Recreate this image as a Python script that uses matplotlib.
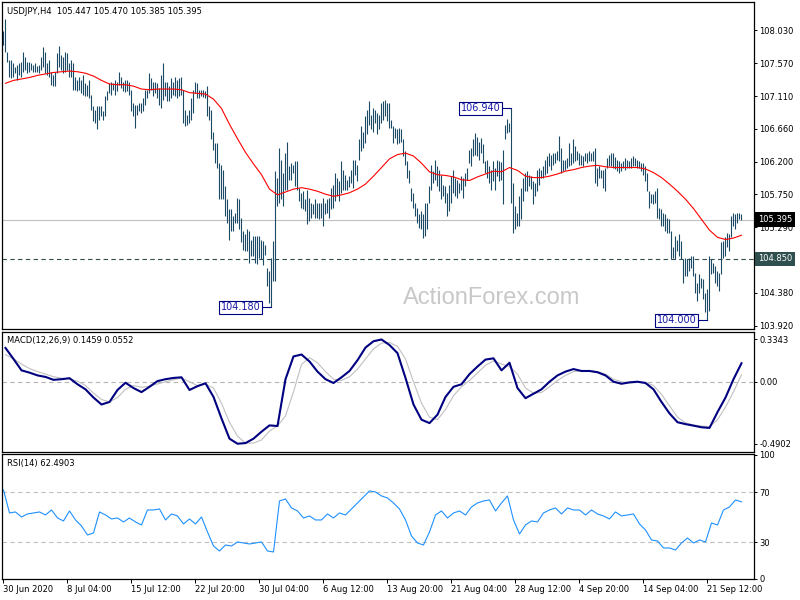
import matplotlib
matplotlib.use("Agg")
import matplotlib.pyplot as plt
import numpy as np

# USDJPY H4 bars (high / low), 30 Jun 2020 20:00 .. 24 Sep 2020
highs = [
    108.01, 108.18, 107.73, 107.61, 107.61, 107.57, 107.52, 107.55, 107.57, 107.59,
    107.73, 107.66, 107.59, 107.59, 107.57, 107.55, 107.57, 107.53, 107.55, 107.66,
    107.80, 107.73, 107.57, 107.61, 107.45, 107.41, 107.45, 107.71, 107.81, 107.68,
    107.66, 107.73, 107.71, 107.57, 107.61, 107.57, 107.38, 107.34, 107.38, 107.34,
    107.41, 107.30, 107.27, 107.34, 107.13, 106.97, 106.92, 106.97, 106.97, 106.97,
    106.90, 107.11, 107.18, 107.29, 107.31, 107.29, 107.34, 107.31, 107.45, 107.38,
    107.31, 107.33, 107.34, 107.31, 107.20, 107.01, 106.99, 106.99, 107.01, 107.01,
    107.08, 107.20, 107.20, 107.43, 107.36, 107.31, 107.31, 107.29, 107.22, 107.41,
    107.57, 107.31, 107.31, 107.25, 107.36, 107.31, 107.38, 107.34, 107.36, 107.38,
    107.20, 106.92, 106.85, 106.92, 107.08, 107.20, 107.31, 107.29, 107.20, 107.20,
    107.19, 107.18, 107.25, 106.97, 106.92, 106.62, 106.46, 106.46, 106.18, 106.16,
    106.09, 105.86, 105.68, 105.54, 105.54, 105.44, 105.49, 105.70, 105.68, 105.42,
    105.24, 105.19, 105.26, 105.24, 105.12, 105.17, 105.17, 105.17, 105.17,
    105.12, 105.10, 105.05, 104.73, 104.68, 104.87, 105.10,
    106.07, 105.98, 106.39, 106.23, 106.05, 106.32, 106.48, 106.14, 106.18, 106.16,
    106.21, 106.21, 105.84, 105.77, 105.79, 105.68, 105.81, 105.70, 105.63, 105.61,
    105.68, 105.63, 105.63, 105.63, 105.70, 105.63, 105.68, 105.70, 105.84, 105.88,
    106.05, 105.98, 105.93, 106.21, 106.09, 106.02, 105.95, 106.00, 106.09, 106.23,
    106.23, 106.16, 106.51, 106.69, 106.62, 106.83, 106.92, 107.04, 106.85, 106.95,
    106.92, 106.88, 106.85, 107.01, 107.04, 107.06, 107.01, 107.01, 106.78, 106.69,
    106.67, 106.65, 106.67, 106.65, 106.51, 106.35, 106.21, 106.09, 105.84, 105.77,
    105.63, 105.56, 105.47, 105.51, 105.47, 105.63, 105.63, 105.86, 106.16, 106.07,
    106.23, 106.14, 106.09, 106.02, 105.88, 105.86, 105.77, 105.88, 106.00, 106.09,
    105.98, 105.95, 105.91, 106.00, 105.98, 106.05, 106.11, 106.37, 106.39, 106.51,
    106.60, 106.55, 106.48, 106.53, 106.44, 106.21, 106.23, 106.14, 106.09, 106.21,
    106.11, 106.23,
    106.21, 106.20, 106.37, 106.71, 106.80, 106.74, 106.94, 105.91, 105.58, 105.49,
    105.72, 105.84, 105.98, 106.05, 106.07, 106.02, 106.00, 105.93, 105.91, 106.09,
    106.11, 106.09, 106.14, 106.23, 106.28, 106.32, 106.30, 106.32, 106.32, 106.35,
    106.56, 106.39, 106.23, 106.23, 106.25, 106.46, 106.32, 106.51, 106.42, 106.35,
    106.32, 106.30, 106.28, 106.32, 106.32, 106.35, 106.32, 106.35, 106.39, 106.12,
    106.14, 106.09, 106.09, 106.12, 106.25, 106.30, 106.32, 106.32, 106.27, 106.23,
    106.21, 106.18, 106.21, 106.25, 106.23, 106.21, 106.25, 106.28, 106.25, 106.23,
    106.21, 106.18, 106.18, 106.14, 106.05, 105.79, 105.75, 105.75, 105.79, 105.84,
    105.56, 105.54, 105.49, 105.47, 105.42, 105.40, 105.24, 105.01, 105.17, 105.12,
    105.19, 105.10, 104.85, 104.87, 104.85, 104.87, 104.89, 104.89, 104.66, 104.52,
    104.64, 104.59, 104.57, 104.38, 104.43, 104.89, 104.85, 104.80, 104.75, 104.68,
    104.66, 105.08, 105.10, 105.15, 105.21, 105.19, 105.45, 105.49, 105.47, 105.49,
    105.49, 105.47,
]
lows = [
    107.82, 107.72, 107.59, 107.38, 107.36, 107.38, 107.43, 107.34, 107.41, 107.38,
    107.45, 107.48, 107.43, 107.45, 107.48, 107.45, 107.45, 107.44, 107.43, 107.48,
    107.52, 107.43, 107.41, 107.38, 107.27, 107.25, 107.25, 107.43, 107.52, 107.48,
    107.43, 107.45, 107.48, 107.38, 107.38, 107.20, 107.20, 107.18, 107.20, 107.15,
    107.13, 107.12, 107.11, 107.08, 106.92, 106.76, 106.74, 106.65, 106.78, 106.83,
    106.78, 106.83, 107.06, 107.15, 107.13, 107.20, 107.13, 107.18, 107.27, 107.22,
    107.18, 107.17, 107.18, 107.13, 106.90, 106.83, 106.67, 106.85, 106.90, 106.88,
    106.90, 106.99, 107.08, 107.15, 107.20, 107.11, 107.15, 107.08, 106.99, 106.94,
    107.06, 107.11, 107.04, 107.04, 107.08, 107.13, 107.11, 107.08, 107.12, 107.13,
    106.74, 106.69, 106.71, 106.74, 106.78, 106.88, 107.15, 107.08, 107.08, 107.11,
    107.10, 107.08, 106.83, 106.78, 106.51, 106.37, 106.18, 106.11, 105.68, 105.68,
    105.68, 105.44, 105.35, 105.12, 105.24, 105.24, 105.35, 105.35, 105.26, 105.08,
    104.98, 104.96, 104.96, 104.80, 104.89, 104.89, 104.80, 104.78, 104.87,
    104.85, 104.77, 104.90, 104.47, 104.24, 104.18, 104.54,
    104.55, 105.58, 105.63, 105.68, 105.58, 105.81, 105.81, 105.95, 105.95, 106.05,
    105.86, 105.81, 105.65, 105.56, 105.54, 105.51, 105.33, 105.38, 105.42, 105.47,
    105.42, 105.42, 105.40, 105.42, 105.31, 105.47, 105.49, 105.42, 105.54, 105.56,
    105.65, 105.72, 105.65, 105.77, 105.81, 105.81, 105.81, 105.85, 105.91, 105.84,
    106.02, 105.93, 106.23, 106.35, 106.39, 106.46, 106.58, 106.71, 106.65, 106.62,
    106.74, 106.58, 106.65, 106.74, 106.78, 106.83, 106.76, 106.67, 106.67, 106.46,
    106.53, 106.44, 106.46, 106.48, 106.28, 106.16, 105.98, 105.91, 105.65, 105.56,
    105.45, 105.35, 105.28, 105.26, 105.14, 105.17, 105.26, 105.63, 105.81, 105.91,
    105.95, 105.86, 105.79, 105.68, 105.72, 105.63, 105.45, 105.51, 105.63, 105.77,
    105.72, 105.70, 105.77, 105.81, 105.70, 105.86, 105.95, 106.18, 106.14, 106.28,
    106.30, 106.28, 106.23, 106.32, 106.18, 106.05, 105.98, 105.91, 105.81, 105.93,
    105.81, 106.00,
    105.93, 105.95, 105.61, 106.51, 106.60, 106.62, 105.63, 105.21, 105.26, 105.31,
    105.31, 105.40, 105.65, 105.79, 105.79, 105.86, 105.82, 105.61, 105.72, 105.79,
    105.88, 105.98, 105.98, 106.02, 106.05, 106.14, 106.09, 106.16, 106.18, 106.23,
    106.21, 106.05, 106.07, 106.09, 106.12, 106.14, 106.16, 106.18, 106.21, 106.23,
    106.16, 106.16, 106.14, 106.21, 106.18, 106.21, 106.21, 106.21, 105.91, 105.86,
    105.98, 105.98, 105.84, 105.79, 106.12, 106.14, 106.14, 106.12, 106.10, 106.07,
    106.05, 106.07, 106.12, 106.09, 106.11, 106.12, 106.12, 106.14, 106.14, 106.12,
    106.12, 106.07, 106.02, 105.93, 105.79, 105.56, 105.63, 105.61, 105.63, 105.42,
    105.40, 105.31, 105.31, 105.24, 105.21, 105.21, 104.85, 104.87, 104.85, 104.96,
    104.89, 104.85, 104.52, 104.61, 104.61, 104.68, 104.73, 104.61, 104.38, 104.27,
    104.38, 104.45, 104.29, 104.11, 104.00, 104.13, 104.64, 104.66, 104.52, 104.48,
    104.41, 104.64, 104.87, 104.89, 105.01, 104.96, 105.15, 105.31, 105.26, 105.35,
    105.40, 105.385,
]

# moving average (red), one reading every 4 bars
ma_vals = [
    107.29, 107.33, 107.35, 107.37, 107.40, 107.42, 107.44, 107.45, 107.46, 107.45,
    107.43, 107.39, 107.33, 107.28, 107.27, 107.27, 107.25, 107.21, 107.20, 107.21,
    107.21, 107.21, 107.20, 107.16, 107.15, 107.14, 107.07, 106.94, 106.72, 106.52,
    106.33, 106.17, 106.02, 105.82, 105.74, 105.78, 105.82, 105.84, 105.82, 105.79,
    105.75, 105.72, 105.74, 105.77, 105.82, 105.89, 106.00, 106.12, 106.24, 106.30,
    106.32, 106.28, 106.18, 106.06, 106.02, 106.01, 105.99, 105.95, 105.94, 105.99,
    106.03, 106.07, 106.06, 106.12, 106.08, 106.00, 105.98, 105.98, 106.00, 106.03,
    106.07, 106.09, 106.12, 106.14, 106.15, 106.13, 106.12, 106.12, 106.12, 106.12,
    106.10, 106.05, 105.98, 105.89, 105.79, 105.68, 105.55, 105.40, 105.25, 105.15,
    105.12, 105.14, 105.18,
]

# MACD(12,26,9) main and signal, one reading every 4 bars
macd_main = [
    0.267, 0.18, 0.09, 0.072, 0.050, 0.038, 0.015, 0.020, 0.028, -0.020,
    -0.060, -0.125, -0.180, -0.160, -0.065, -0.008, -0.050, -0.082, -0.040, 0.005,
    0.020, 0.030, 0.035, -0.065, -0.035, -0.012, -0.120, -0.290, -0.450, -0.490,
    -0.485, -0.450, -0.395, -0.345, -0.350, 0.020, 0.200, 0.215, 0.160, 0.080,
    0.020, -0.010, 0.035, 0.085, 0.170, 0.270, 0.320, 0.334, 0.290, 0.226,
    0.030, -0.180, -0.300, -0.327, -0.260, -0.120, -0.040, -0.020, 0.060, 0.120,
    0.175, 0.185, 0.090, 0.150, -0.050, -0.130, -0.095, -0.060, 0.000, 0.050,
    0.080, 0.100, 0.085, 0.085, 0.075, 0.050, 0.000, -0.016, -0.005, 0.000,
    -0.010, -0.060, -0.160, -0.250, -0.320, -0.335, -0.347, -0.360, -0.365, -0.240,
    -0.125, 0.020, 0.146,
]
macd_signal = [
    0.215, 0.18, 0.14, 0.104, 0.08, 0.060, 0.040, 0.028, 0.021, 0.005,
    -0.030, -0.090, -0.140, -0.160, -0.125, -0.060, -0.030, -0.044, -0.035, -0.018,
    0.000, 0.015, 0.030, 0.000, -0.031, -0.020, -0.050, -0.170, -0.320, -0.430,
    -0.485, -0.485, -0.460, -0.390, -0.350, -0.270, -0.080, 0.137, 0.190, 0.150,
    0.080, 0.020, 0.010, 0.040, 0.100, 0.180, 0.260, 0.305, 0.310, 0.280,
    0.180, 0.000, -0.170, -0.280, -0.300, -0.220, -0.110, -0.040, 0.010, 0.070,
    0.130, 0.165, 0.140, 0.120, 0.060, -0.050, -0.090, -0.085, -0.040, 0.010,
    0.050, 0.080, 0.085, 0.085, 0.080, 0.060, 0.020, 0.000, -0.010, -0.005,
    -0.005, -0.030, -0.100, -0.190, -0.280, -0.325, -0.342, -0.350, -0.355, -0.300,
    -0.200, -0.080, 0.055,
]

# RSI(14), one reading every 3 bars
rsi_vals = [
    72, 53.6, 54.4, 50.4, 52.8, 53.6, 54.4, 52, 56, 49.6,
    47.2, 55.2, 48, 43.2, 36, 37.6, 54.4, 52, 48.8, 49.6,
    46.4, 49.6, 46.4, 44, 56, 56, 56.8, 48, 52.8, 51.2,
    44.8, 48.8, 44.8, 50.4, 38.4, 27.2, 23.2, 28, 27.2, 30.4,
    29.6, 28.8, 29.6, 30.4, 23.2, 22.4, 63.2, 64.8, 57.6, 55.2,
    49.6, 51.2, 48, 48, 52.8, 49.6, 53.6, 52, 56.8, 61.6,
    66.4, 71.2, 70.4, 67.2, 65.6, 61.6, 56.8, 48, 35.2, 29.6,
    28, 38.4, 52, 55.2, 49.6, 53.6, 55.2, 52, 58.4, 61.6,
    63.2, 64, 55.2, 61.6, 67.2, 48, 36.8, 44, 47.2, 46.4,
    53.6, 56, 57.6, 52.8, 57.6, 56, 56, 52, 56, 52.8,
    51.2, 48.8, 54.4, 51.2, 52, 52.8, 44.8, 40, 32, 31.2,
    25.6, 25.6, 24, 29.6, 33.6, 29.6, 32, 30.4, 45.6, 44,
    56, 58.4, 64, 62.5,
]

date_labels = ['30 Jun 2020', '8 Jul 04:00', '15 Jul 12:00', '22 Jul 20:00',
               '30 Jul 04:00', '6 Aug 12:00', '13 Aug 20:00', '21 Aug 04:00',
               '28 Aug 12:00', '4 Sep 20:00', '14 Sep 04:00', '21 Sep 12:00']
price_ticks = [108.03, 107.57, 107.11, 106.66, 106.20, 105.75, 105.29, 104.38, 103.92]
last_price = 105.395
level_price = 104.850
marks = [(134, 104.180), (254, 106.940), (352, 104.000)]  # (bar, price) of labelled extremes

plt.rcParams['font.family'] = 'DejaVu Sans'
bar_color = '#1c4a66'
small = 6

fig = plt.figure(figsize=(8, 6), dpi=100)
W, H = 800.0, 600.0
ax1 = fig.add_axes([2 / W, 1 - 329 / H, 752 / W, 327 / H])
ax2 = fig.add_axes([2 / W, 1 - 451.7 / H, 752 / W, 120.2 / H], sharex=ax1)
ax3 = fig.add_axes([2 / W, 1 - 579 / H, 752 / W, 124.7 / H], sharex=ax1)

x = np.arange(len(highs))
ax1.vlines(x, lows, highs, color=bar_color, lw=0.8, zorder=2)
ma_x = np.arange(1, 1 + 4 * len(ma_vals), 4)[:len(ma_vals)]
ax1.plot(ma_x, ma_vals, color='red', lw=0.8, zorder=3)

ax1.axhline(last_price, color='#c0c0c0', lw=0.8, zorder=1)
ax1.axhline(level_price, color='#2f4f4f', lw=0.8, ls=(0, (4, 3)), zorder=1)

for bi, p in marks:
    ax1.plot([bi - 5, bi], [p, p], color='navy', lw=0.8, zorder=4)
    ax1.text(bi - 5.4, p, '%.3f' % p, ha='right', va='center', fontsize=7, color='#1a1aa8',
             bbox=dict(boxstyle='square,pad=0.15', fc='white', ec='navy', lw=0.8), zorder=5)

ax1.text(0.0066, 0.985, 'USDJPY,H4  105.447 105.470 105.385 105.395', transform=ax1.transAxes,
         ha='left', va='top', fontsize=small, color='black')
ax1.text(0.6516, 0.095, 'ActionForex.com', transform=ax1.transAxes, ha='center', va='center',
         fontsize=17, color='#c8c8c8', family='Liberation Sans', zorder=0)

ax1.set_xlim(-0.75, 375.25)
ax1.set_ylim(108.03 - 299 / 72.0, 108.03 + 28 / 72.0)
ax1.set_yticks(price_ticks)
ax1.set_yticklabels(['%.3f' % v for v in price_ticks])

# right side price tags
ytr = ax1.get_yaxis_transform()
ax1.text(1.0053, last_price, '%.3f' % last_price, transform=ytr, ha='left', va='center', fontsize=small,
         color='white', bbox=dict(boxstyle='square,pad=0.35', fc='black', ec='black', lw=0), clip_on=False, zorder=10)
ax1.text(1.0053, level_price, '%.3f' % level_price, transform=ytr, ha='left', va='center', fontsize=small,
         color='white', bbox=dict(boxstyle='square,pad=0.35', fc='#2f4f4f', ec='#2f4f4f', lw=0), clip_on=False, zorder=10)

# MACD panel
mx = np.arange(1, 1 + 4 * len(macd_main), 4)[:len(macd_main)]
ax2.axhline(0, color='#b4b4b4', lw=0.8, ls=(0, (4, 3)))
ax2.plot(mx, macd_signal, color='#c0c0c0', lw=0.8)
ax2.plot(mx, macd_main, color='#000080', lw=1.5)
ax2.set_ylim(-0.553, 0.397)
ax2.set_yticks([0.3343, 0.0, -0.4902])
ax2.set_yticklabels(['0.3343', '0.00', '-0.4902'])
ax2.text(0.0066, 0.965, 'MACD(12,26,9) 0.1459 0.0552', transform=ax2.transAxes,
         ha='left', va='top', fontsize=small)

# RSI panel
rx = np.arange(0, 3 * len(rsi_vals), 3)[:len(rsi_vals)]
ax3.axhline(70, color='#c0c0c0', lw=0.8, ls=(0, (4, 3)))
ax3.axhline(30, color='#c0c0c0', lw=0.8, ls=(0, (4, 3)))
ax3.plot(rx, rsi_vals, color='#1e90ff', lw=0.8)
ax3.set_ylim(0.8, 100.5)
ax3.set_yticks([100, 70, 30, 0.8])
ax3.set_yticklabels(['100', '70', '30', '0'])
lab = ax3.get_yticklabels()
lab[0].set_va('top')
lab[3].set_va('bottom')
ax3.text(0.0066, 0.965, 'RSI(14) 62.4903', transform=ax3.transAxes, ha='left', va='top', fontsize=small)

ax3.set_xticks(np.arange(0, 32 * len(date_labels), 32))
ax3.set_xticklabels(date_labels, ha='left')

for ax in (ax1, ax2, ax3):
    ax.yaxis.tick_right()
    ax.tick_params(axis='y', which='both', left=False, right=True, labelleft=False, labelright=True,
                   direction='out', length=2.5, width=0.7, pad=1.5, labelsize=small, colors='black')
    for s in ax.spines.values():
        s.set_linewidth(0.9)
        s.set_color('black')
for ax in (ax1, ax2):
    ax.tick_params(axis='x', bottom=False, labelbottom=False)
ax3.tick_params(axis='x', direction='out', length=3, width=0.7, pad=1, labelsize=small)

fig.savefig('out.png', dpi=100, facecolor='white')
